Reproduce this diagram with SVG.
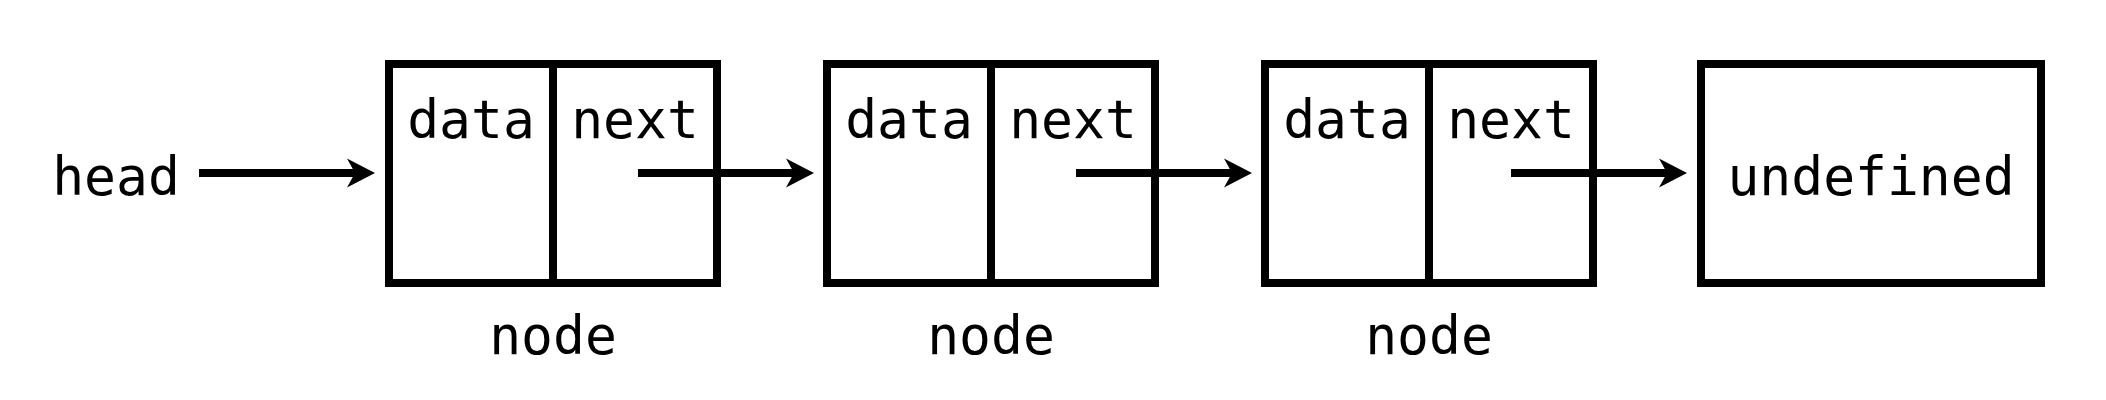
<svg xmlns="http://www.w3.org/2000/svg" width="2106" height="400" viewBox="0 0 2106 400">
  <style>
    .box { fill: #ffffff; stroke: #000000; stroke-width: 8; }
    .div { stroke: #000000; stroke-width: 8; }
    .lbl { font-family: "DejaVu Sans Mono", "Liberation Mono", monospace; font-size: 53px; fill: #000000; text-anchor: middle; }
    .edge { stroke: #000000; stroke-width: 8; fill: none; marker-end: url(#arrow); }
  </style>
  <defs>
    <marker id="arrow" markerUnits="userSpaceOnUse" viewBox="-10 -16 32 32" refX="0" refY="0" markerWidth="32" markerHeight="32" orient="auto">
      <path d="M20,0 L-8,-14.5 L0,0 L-8,14.5 Z" fill="#000000"/>
    </marker>
  </defs>
  <rect width="2106" height="400" fill="#ffffff"/>

  <g id="head">
    <text class="lbl" x="116" y="195">head</text>
  </g>

  <g id="node1">
    <rect class="box" x="389" y="64" width="328" height="219"/>
    <line class="div" x1="553" y1="64" x2="553" y2="283"/>
    <text class="lbl" x="471" y="138">data</text>
    <text class="lbl" x="635" y="138">next</text>
    <text class="lbl" x="553" y="354">node</text>
  </g>

  <g id="node2">
    <rect class="box" x="827" y="64" width="328" height="219"/>
    <line class="div" x1="991" y1="64" x2="991" y2="283"/>
    <text class="lbl" x="909" y="138">data</text>
    <text class="lbl" x="1073" y="138">next</text>
    <text class="lbl" x="991" y="354">node</text>
  </g>

  <g id="node3">
    <rect class="box" x="1265" y="64" width="328" height="219"/>
    <line class="div" x1="1429" y1="64" x2="1429" y2="283"/>
    <text class="lbl" x="1347" y="138">data</text>
    <text class="lbl" x="1511" y="138">next</text>
    <text class="lbl" x="1429" y="354">node</text>
  </g>

  <g id="undefined">
    <rect class="box" x="1701" y="64" width="340" height="219"/>
    <text class="lbl" x="1871" y="195">undefined</text>
  </g>

  <g id="connectors">
    <line class="edge" x1="199" y1="173" x2="355" y2="173"/>
    <line class="edge" x1="638" y1="173" x2="794" y2="173"/>
    <line class="edge" x1="1076" y1="173" x2="1232" y2="173"/>
    <line class="edge" x1="1511" y1="173" x2="1667" y2="173"/>
  </g>
</svg>
